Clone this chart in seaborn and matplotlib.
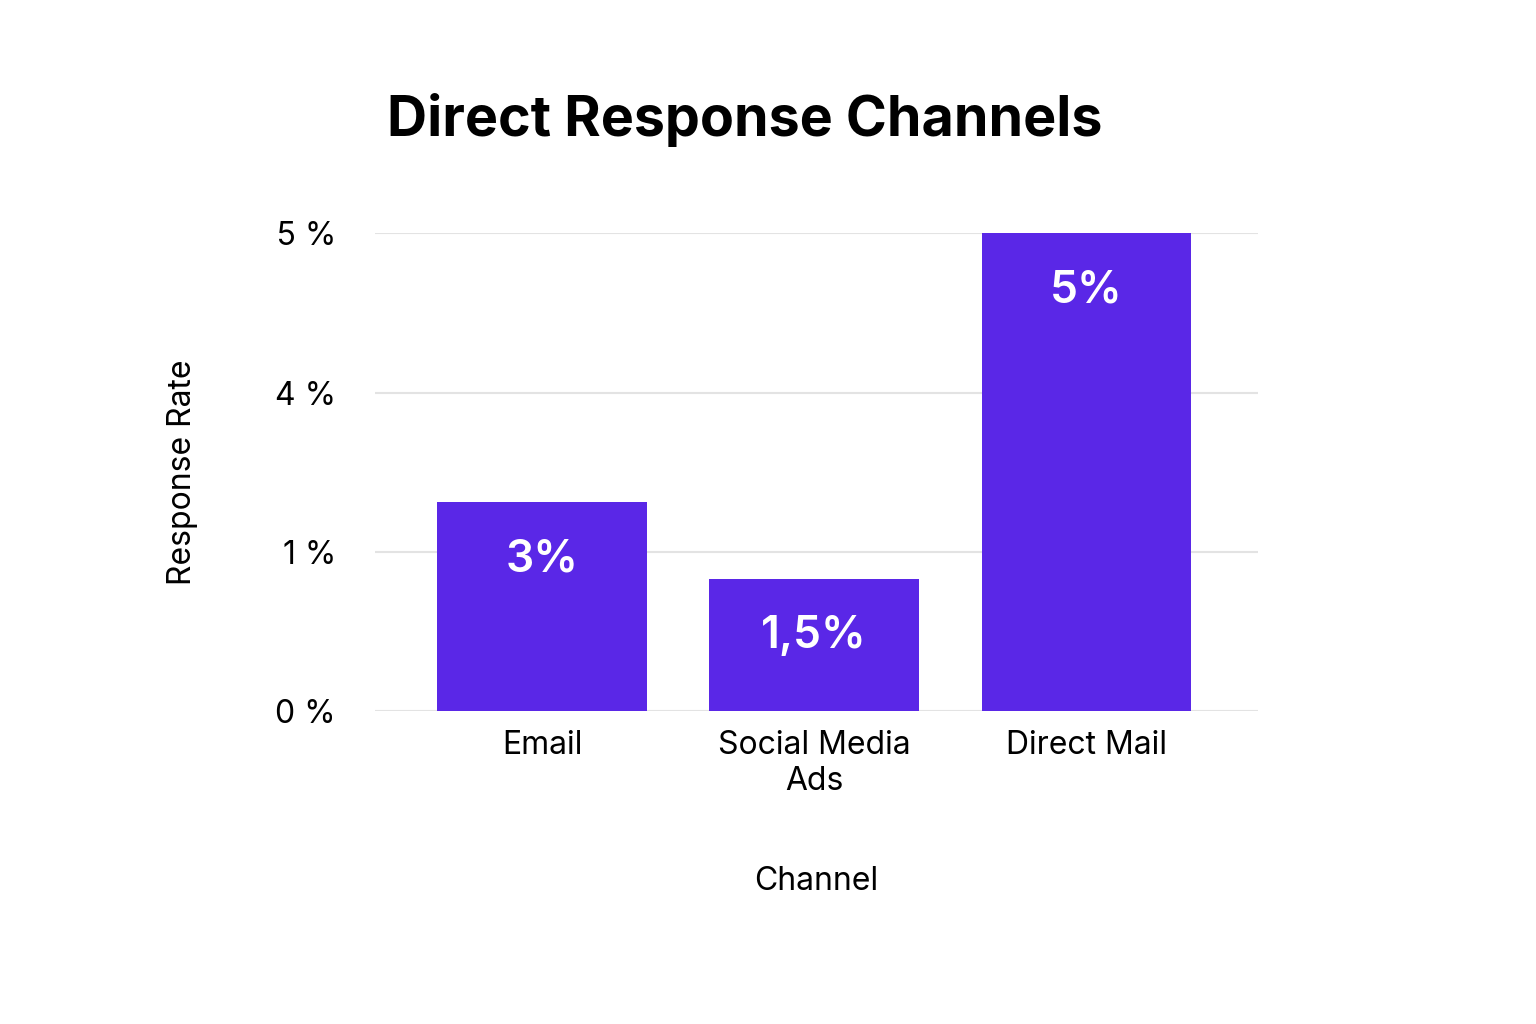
import matplotlib
matplotlib.use("Agg")
import matplotlib.pyplot as plt
import seaborn as sns
import pandas as pd

# data (the y axis is not linear: ticks 0,1,4,5 evenly spaced)
channels = ["Email", "Social Media\nAds", "Direct Mail"]
bar_heights = [1.31, 0.83, 3.0]          # height in tick-step units as drawn
bar_labels = ["3%", "1,5%", "5%"]
tick_labels = ["0 %", "1 %", "4 %", "5 %"]

BAR_COLOR = "#5A27E7"
plt.rcParams["font.family"] = "Inter"

df = pd.DataFrame({"Channel": channels, "Rate": bar_heights})

fig = plt.figure(figsize=(15.36, 10.24), dpi=100)
ax = fig.add_axes([0.244, 0.306, 0.575, 0.466])
sns.barplot(data=df, x="Channel", y="Rate", color=BAR_COLOR, saturation=1,
            width=0.77, ax=ax, zorder=3)

for i, (h, lab) in enumerate(zip(bar_heights, bar_labels)):
    ax.text(i, h - 0.36, lab, ha="center", va="center", color="white",
            fontsize=32, fontweight="semibold", zorder=4)

ax.set_ylim(0, 3)
ax.set_xlim(-0.614, 2.63)
ax.set_yticks(range(len(tick_labels)))
ax.set_yticklabels(tick_labels, fontsize=23)
ax.tick_params(axis="x", labelsize=23, length=0, pad=14)
ax.tick_params(axis="y", length=0, pad=28)
ax.grid(axis="y", color="#E3E3E3", linewidth=1.5, zorder=0)
ax.set_axisbelow(True)
for s in ax.spines.values():
    s.set_visible(False)
ax.set_xlabel("Channel", fontsize=23, labelpad=50)
ax.set_ylabel("Response Rate", fontsize=23, labelpad=55)

fig.text(0.485, 0.883, "Direct Response Channels", ha="center", va="center",
         fontsize=40, fontweight="bold")

fig.savefig("out.png", dpi=100, facecolor="white")
